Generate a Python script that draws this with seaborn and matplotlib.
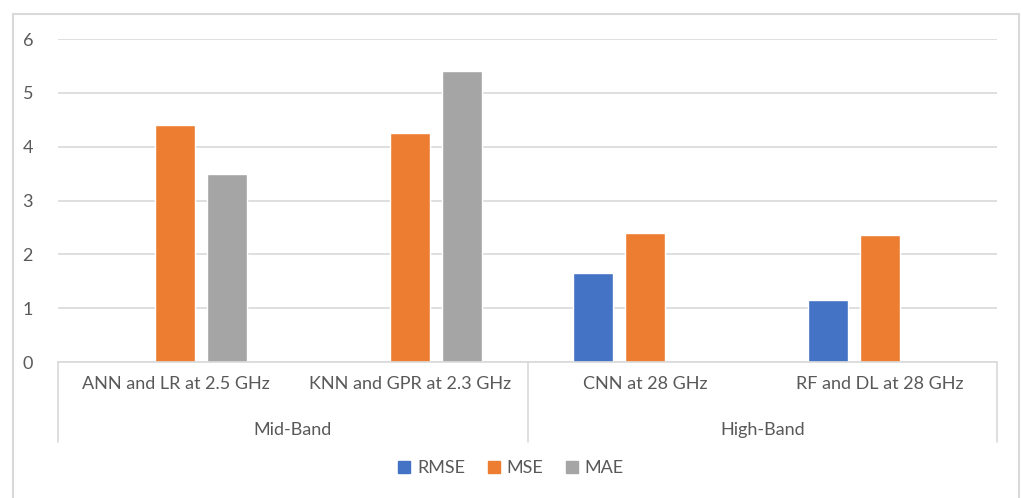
import matplotlib
matplotlib.use("Agg")
import matplotlib.pyplot as plt
import matplotlib.transforms as mtransforms
from matplotlib.patches import Rectangle
from matplotlib.lines import Line2D
import seaborn as sns
import numpy as np
import pandas as pd

# data
models = ["ANN and LR at 2.5 GHz", "KNN and GPR at 2.3 GHz", "CNN at 28 GHz", "RF and DL at 28 GHz"]
bands = ["Mid-Band", "Mid-Band", "High-Band", "High-Band"]
metrics = ["RMSE", "MSE", "MAE"]
rmse = [np.nan, np.nan, 1.65, 1.15]
mse = [4.4, 4.25, 2.4, 2.35]
mae = [3.5, 5.4, np.nan, np.nan]
colors = ["#4472C4", "#ED7D31", "#A5A5A5"]

df = pd.DataFrame({
    "model": models * 3,
    "metric": [m for m in metrics for _ in models],
    "value": rmse + mse + mae,
})

sns.set_style("white")
plt.rcParams["font.family"] = ["Lato", "DejaVu Sans"]
text_col = "#595959"
grid_col = "#d9d9d9"
fs = 13

fig = plt.figure(figsize=(10.21, 4.98), dpi=100)
ax = fig.add_axes([58 / 1021, 1 - 362 / 498, 939 / 1021, 323 / 498])

sns.barplot(data=df, x="model", y="value", hue="metric", order=models,
            hue_order=metrics, palette=colors, width=0.664, gap=0.23,
            saturation=1, errorbar=None, legend=False, ax=ax)

ax.set_ylim(0, 6)
ax.set_xlim(-0.5, 3.5)
ax.set_yticks(range(0, 7))
ax.yaxis.grid(True, color=grid_col, linewidth=1.2)
ax.set_axisbelow(True)
for s in ["left", "right", "top"]:
    ax.spines[s].set_visible(False)
ax.spines["bottom"].set_color(grid_col)
ax.spines["bottom"].set_linewidth(1.2)
ax.tick_params(axis="y", length=0, pad=18, labelsize=fs, labelcolor=text_col)
ax.set_xticks([])
ax.set_xlabel("")
ax.set_ylabel("")

# two-level category axis
trans = mtransforms.blended_transform_factory(ax.transData, ax.transAxes)
for i, m in enumerate(models):
    ax.text(i, -0.068, m, transform=trans, ha="center", va="center",
            fontsize=fs, color=text_col)
group_names = ["Mid-Band", "High-Band"]
for j, g in enumerate(group_names):
    ax.text(0.5 + 2 * j, -0.21, g, transform=trans, ha="center", va="center",
            fontsize=fs, color=text_col)
for xs in [-0.5, 1.5, 3.5]:
    ax.add_line(Line2D([xs, xs], [0, -0.248], transform=trans, color=grid_col,
                       linewidth=1.2, clip_on=False))

# legend
handles = [Line2D([], [], marker="s", linestyle="", markersize=8,
                  markerfacecolor=c, markeredgecolor=c) for c in colors]
fig.legend(handles, metrics, loc="center", bbox_to_anchor=(0.5, 1 - 468 / 498),
           ncol=3, frameon=False, fontsize=fs, labelcolor=text_col,
           handlelength=0.8, handletextpad=0.3, columnspacing=1.2)

# chart border
fig.patches.append(Rectangle((13 / 1021, -0.02), 1006 / 1021, 1 - 14 / 498 + 0.02,
                             transform=fig.transFigure, fill=False,
                             edgecolor=grid_col, linewidth=1.5))

fig.savefig("out.png", dpi=100)
